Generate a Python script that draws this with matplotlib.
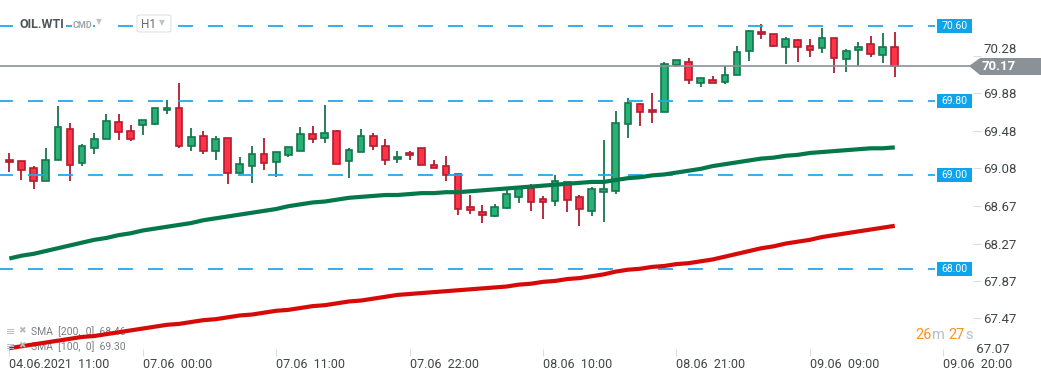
import matplotlib
matplotlib.use("Agg")
import matplotlib.pyplot as plt
import matplotlib.transforms as mtransforms
from matplotlib.patches import Rectangle, Polygon, FancyBboxPatch
import numpy as np

plt.rcParams['font.family'] = ['Roboto', 'DejaVu Sans']
plt.rcParams['lines.scale_dashes'] = False

# hourly candles, OIL.WTI H1
opens = [69.17, 69.15, 69.08, 68.94, 69.16, 69.50, 69.13, 69.29, 69.39, 69.57,
         69.47, 69.54, 69.55, 69.70, 69.72, 69.32, 69.42, 69.26, 69.40, 69.03,
         69.10, 69.23, 69.14, 69.22, 69.26, 69.44, 69.40, 69.47, 69.15, 69.25,
         69.42, 69.32, 69.18, 69.24, 69.29, 69.11, 69.10, 69.02, 68.66, 68.61,
         68.57, 68.65, 68.77, 68.86, 68.75, 68.73, 68.93, 68.77, 68.62, 68.82,
         68.83, 69.55, 69.76, 69.70, 69.68, 70.18, 70.21, 69.99, 70.02, 70.00,
         70.08, 70.33, 70.54, 70.51, 70.38, 70.45, 70.39, 70.36, 70.47, 70.25,
         70.34, 70.41, 70.29, 70.38]
highs = [69.24, 69.15, 69.10, 69.29, 69.74, 69.56, 69.34, 69.45, 69.66, 69.66,
         69.54, 69.59, 69.72, 69.81, 69.99, 69.51, 69.47, 69.42, 69.40, 69.20,
         69.32, 69.40, 69.25, 69.30, 69.52, 69.53, 69.75, 69.49, 69.29, 69.50,
         69.45, 69.39, 69.26, 69.26, 69.29, 69.17, 69.21, 69.02, 68.79, 68.68,
         68.69, 68.84, 68.89, 68.91, 68.78, 69.00, 68.93, 68.79, 68.88, 69.38,
         69.69, 69.83, 69.78, 69.88, 70.21, 70.24, 70.26, 70.04, 70.06, 70.17,
         70.39, 70.56, 70.62, 70.51, 70.48, 70.46, 70.46, 70.58, 70.47, 70.35,
         70.43, 70.49, 70.52, 70.54]
lows = [69.04, 68.95, 68.85, 68.94, 69.16, 68.94, 69.10, 69.23, 69.39, 69.38,
        69.37, 69.43, 69.54, 69.66, 69.29, 69.26, 69.23, 69.17, 68.91, 69.01,
        68.92, 69.06, 68.98, 69.20, 69.26, 69.35, 69.35, 69.12, 68.97, 69.25,
        69.27, 69.11, 69.13, 69.17, 69.11, 69.08, 68.94, 68.58, 68.59, 68.49,
        68.55, 68.64, 68.70, 68.62, 68.53, 68.67, 68.61, 68.46, 68.56, 68.50,
        68.80, 69.40, 69.53, 69.56, 69.68, 70.16, 69.98, 69.95, 69.99, 69.98,
        70.08, 70.23, 70.46, 70.38, 70.19, 70.21, 70.27, 70.31, 70.10, 70.11,
        70.17, 70.27, 70.20, 70.05]
closes = [69.14, 69.06, 68.94, 69.17, 69.52, 69.11, 69.31, 69.39, 69.58, 69.46,
          69.39, 69.59, 69.72, 69.72, 69.32, 69.41, 69.26, 69.39, 69.03, 69.12,
          69.23, 69.13, 69.25, 69.30, 69.44, 69.39, 69.45, 69.12, 69.27, 69.42,
          69.31, 69.17, 69.20, 69.22, 69.11, 69.08, 69.00, 68.64, 68.63, 68.58,
          68.66, 68.80, 68.86, 68.72, 68.71, 68.94, 68.74, 68.64, 68.85, 68.85,
          69.56, 69.77, 69.68, 69.68, 70.19, 70.24, 70.02, 70.04, 69.99, 70.08,
          70.32, 70.55, 70.51, 70.39, 70.46, 70.38, 70.34, 70.47, 70.26, 70.33,
          70.38, 70.30, 70.38, 70.17]

sma100 = [68.11, 68.14, 68.16, 68.19, 68.22, 68.25, 68.28, 68.31, 68.33, 68.36,
          68.38, 68.41, 68.43, 68.45, 68.47, 68.49, 68.52, 68.54, 68.56, 68.58,
          68.60, 68.62, 68.64, 68.67, 68.69, 68.71, 68.72, 68.74, 68.76, 68.77,
          68.78, 68.79, 68.79, 68.80, 68.81, 68.81, 68.82, 68.82, 68.83, 68.84,
          68.85, 68.86, 68.87, 68.88, 68.89, 68.90, 68.91, 68.92, 68.93, 68.93,
          68.95, 68.97, 68.98, 69.00, 69.01, 69.03, 69.05, 69.07, 69.10, 69.12,
          69.14, 69.16, 69.18, 69.19, 69.21, 69.22, 69.24, 69.25, 69.26, 69.27,
          69.28, 69.29, 69.29, 69.30]
sma200 = [67.15, 67.17, 67.19, 67.21, 67.23, 67.25, 67.27, 67.28, 67.30, 67.32,
          67.34, 67.36, 67.38, 67.40, 67.41, 67.43, 67.45, 67.46, 67.48, 67.50,
          67.51, 67.53, 67.55, 67.56, 67.58, 67.60, 67.61, 67.63, 67.65, 67.66,
          67.68, 67.70, 67.72, 67.73, 67.74, 67.75, 67.76, 67.77, 67.78, 67.79,
          67.80, 67.81, 67.83, 67.84, 67.86, 67.87, 67.89, 67.90, 67.92, 67.94,
          67.97, 67.99, 68.00, 68.02, 68.03, 68.05, 68.06, 68.08, 68.10, 68.13,
          68.16, 68.19, 68.22, 68.24, 68.27, 68.29, 68.31, 68.34, 68.36, 68.38,
          68.40, 68.42, 68.44, 68.46]

levels = [70.60, 69.80, 69.00, 68.00]
last_price = 70.17
ytick_vals = [67.47, 67.87, 68.27, 68.67, 69.08, 69.48, 69.88, 70.28]
xtick_pos = [0, 11, 22, 33, 44, 55, 66, 77]
xtick_labels = ["04.06.2021  11:00", "07.06  00:00", "07.06  11:00", "07.06  22:00",
                "08.06  10:00", "08.06  21:00", "09.06  09:00", "09.06  20:00"]

W, H = 1041, 380
fig = plt.figure(figsize=(W / 100, H / 100), dpi=100)
fig.patch.set_facecolor('white')
ax = fig.add_axes([0, 1 - 356 / H, 973 / W, 356 / H])
ax.set_xlim(-0.77, 79.45)
ax.set_ylim(67.066, 70.878)
for s in ax.spines.values():
    s.set_visible(False)

o = np.array(opens); c = np.array(closes)
hi = np.array(highs); lo = np.array(lows)
idx = np.arange(len(o))
up = c >= o
g_fill, g_edge = '#27b176', '#16764c'
r_fill, r_edge = '#fe3348', '#b21d2e'

ax.vlines(idx[up], lo[up], hi[up], color=g_edge, lw=1.3, zorder=2)
ax.vlines(idx[~up], lo[~up], hi[~up], color=r_edge, lw=1.3, zorder=2)
ax.bar(idx[up], (c - o)[up], bottom=o[up], width=0.55, color=g_fill,
       edgecolor=g_edge, linewidth=1.2, zorder=3)
ax.bar(idx[~up], (o - c)[~up], bottom=c[~up], width=0.55, color=r_fill,
       edgecolor=r_edge, linewidth=1.2, zorder=3)

ax.plot(idx, sma100, color='#04784b', lw=3.0, zorder=5, solid_capstyle='butt')
ax.plot(idx, sma200, color='#d70a0a', lw=3.0, zorder=5, solid_capstyle='butt')

# horizontal levels with blue tags
blend = mtransforms.blended_transform_factory(ax.transAxes, ax.transData)
for lv in levels:
    ax.axhline(lv, xmin=0, xmax=935 / 973, color='#22a8ee', lw=1.3,
               linestyle=(1.5, (10.8, 10.8)), zorder=4)
    ax.add_patch(Rectangle((937 / 973, lv - 0.075), 35 / 973, 0.15, transform=blend,
                           facecolor='#0ea4ec', edgecolor='none', clip_on=False, zorder=6))
    ax.text(954.5 / 973, lv, f"{lv:.2f}", transform=blend, ha='center', va='center',
            color='white', fontsize=7.5, zorder=7, clip_on=False)

ax.axhline(last_price, xmin=0, xmax=969 / 973, color='#8a9197', lw=1.2, zorder=4)
px = lambda x, y: (x / W, 1 - y / H)
fig.add_artist(Polygon([px(969, 66), px(980, 58), px(1041, 58), px(1041, 75), px(980, 75)],
                       closed=True, transform=fig.transFigure, facecolor='#8b9297',
                       edgecolor='none', zorder=10))
fig.text(*px(982, 66.5), f"{last_price:.2f}", color='white', fontsize=9.5,
         fontweight='bold', ha='left', va='center', zorder=11)

# axes ticks
ax.yaxis.tick_right()
ax.set_yticks(ytick_vals)
ax.set_yticklabels([f"{v:.2f}" for v in ytick_vals])
ax.tick_params(axis='y', direction='out', length=6, width=0.8, color='#dddddd',
               pad=1.5, labelsize=9.5, labelcolor='#3f4448')
# top label sits just above the last-price tag
ax.get_yticklabels()[-1].set_va('bottom')
ax.text(1.0, 67.07, " 67.07", transform=blend, ha='left', va='bottom', fontsize=9.5,
        color='#3f4448', clip_on=False)
ax.set_xticks(xtick_pos)
ax.set_xticklabels(xtick_labels, ha='left')
ax.tick_params(axis='x', direction='in', length=5, width=0.8, color='#dddddd',
               pad=1.5, labelsize=9, labelcolor='#3f4448')

# header
hdr_bbox = dict(facecolor='white', edgecolor='none', pad=0.5)
fig.text(*px(20, 24), "OIL.WTI", fontsize=9, fontweight='bold', color='#50555b',
         va='center', ha='left', bbox=hdr_bbox)
fig.text(*px(73, 25), "CMD", fontsize=6.5, fontweight='bold', color='#a0a5aa',
         va='center', ha='left', bbox=hdr_bbox)
fig.text(*px(96, 22), "\u25BC", fontsize=5.5, color='#c0c4c8', va='center', ha='left',
         family='DejaVu Sans', bbox=hdr_bbox)
fig.add_artist(FancyBboxPatch(px(137, 32), 34 / W, 17 / H,
                              boxstyle='round,pad=0,rounding_size=0.004',
                              transform=fig.transFigure, facecolor='white',
                              edgecolor='#dfe1e3', lw=0.8))
fig.text(*px(141, 24), "H1", fontsize=8.5, color='#666b70', va='center', ha='left')
fig.text(*px(159, 23), "\u25BC", fontsize=5.5, color='#c0c4c8', va='center', ha='left',
         family='DejaVu Sans')

# indicator legend
for yy, name in [(332, "SMA  [200,  0]  68.46"), (347, "SMA  [100,  0]  69.30")]:
    fig.text(*px(6, yy), "\u2261", fontsize=8, color='#b5b9bd', va='center', ha='left',
             family='DejaVu Sans')
    fig.text(*px(18, yy - 1), "\u2716", fontsize=6.5, color='#b5b9bd', va='center',
             ha='left', family='DejaVu Sans')
    ax.text(31 / 973, 1 - yy / 356, name, transform=ax.transAxes, fontsize=7.5,
            color='#7a7f84', va='center', ha='left', zorder=1)

# countdown
for xx, txt, col in [(915, "26", '#f7941d'), (932, "m", '#b9bdc1'),
                     (948, "27", '#f7941d'), (965, "s", '#b9bdc1')]:
    fig.text(*px(xx, 335), txt, fontsize=10.5, color=col, va='center', ha='left')

fig.savefig("out.png", dpi=100, facecolor='white')
